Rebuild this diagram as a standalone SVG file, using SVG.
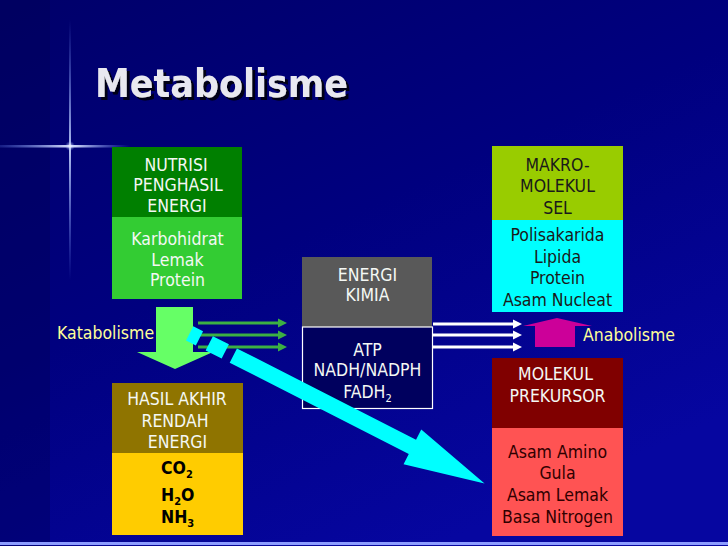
<svg xmlns="http://www.w3.org/2000/svg" width="728" height="546" viewBox="0 0 728 546">
<defs>
<linearGradient id="bg" x1="0" y1="0" x2="0.6" y2="1">
<stop offset="0" stop-color="#00006a"/>
<stop offset="0.5" stop-color="#00007f"/>
<stop offset="1" stop-color="#0606a0"/>
</linearGradient>
<linearGradient id="vline" x1="0" y1="0" x2="0" y2="1">
<stop offset="0" stop-color="#6f8fff" stop-opacity="0"/>
<stop offset="0.5" stop-color="#c8d8ff" stop-opacity="0.9"/>
<stop offset="1" stop-color="#6f8fff" stop-opacity="0"/>
</linearGradient>
<linearGradient id="hline" x1="0" y1="0" x2="1" y2="0">
<stop offset="0" stop-color="#6f8fff" stop-opacity="0.2"/>
<stop offset="0.55" stop-color="#e0e8ff" stop-opacity="1"/>
<stop offset="1" stop-color="#6f8fff" stop-opacity="0"/>
</linearGradient>
<radialGradient id="glow">
<stop offset="0" stop-color="#ffffff" stop-opacity="0.9"/>
<stop offset="1" stop-color="#8fa8ff" stop-opacity="0"/>
</radialGradient>
<filter id="shadow" x="-5%" y="-20%" width="115%" height="150%">
<feDropShadow dx="3" dy="3" stdDeviation="0.4" flood-color="#000018" flood-opacity="1"/>
</filter>
<marker id="gh" markerUnits="userSpaceOnUse" markerWidth="10" markerHeight="10" refX="1" refY="5" orient="auto">
<polygon points="0,0.5 9,5 0,9.5" fill="#3cb043"/>
</marker>
<marker id="wh" markerUnits="userSpaceOnUse" markerWidth="10" markerHeight="10" refX="1" refY="5" orient="auto">
<polygon points="0,0.5 9,5 0,9.5" fill="#ffffff"/>
</marker>
</defs>
<style>
.t{font-family:"DejaVu Sans Condensed","DejaVu Sans",sans-serif;font-size:17.5px;text-anchor:middle}
.w{fill:#f4f8f4}
.d{fill:#1a1a1a}
.r{fill:#300000}
.b{font-weight:bold;text-anchor:start;fill:#000000}
.lab{font-family:"DejaVu Sans Condensed","DejaVu Sans",sans-serif;font-size:17.5px;fill:#ffff99}
.sub{font-size:11px}
.gl{stroke:#3cb043;stroke-width:3;fill:none}
.wl{stroke:#ffffff;stroke-width:3;fill:none}
</style>
<rect width="728" height="546" fill="url(#bg)"/>
<rect x="0" y="0" width="50" height="546" fill="#000050" opacity="0.35"/>
<rect x="69" y="20" width="2" height="260" fill="url(#vline)"/>
<rect x="0" y="145" width="130" height="2.5" fill="url(#hline)"/>
<circle cx="70" cy="146" r="5" fill="url(#glow)"/>
<rect x="0" y="542" width="728" height="3" fill="#8c9cff"/>
<text x="95" y="97" font-family="'DejaVu Sans Condensed','DejaVu Sans',sans-serif" font-weight="bold" font-size="39" textLength="253" lengthAdjust="spacingAndGlyphs" fill="#e8e8f0" filter="url(#shadow)">Metabolisme</text>

<g id="nutrisi">
<rect x="112" y="147" width="130" height="70" fill="#007f00"/>
<rect x="112" y="217" width="130" height="82" fill="#33cc33"/>
<text class="t w" x="176" y="171">NUTRISI</text>
<text class="t w" x="178" y="191">PENGHASIL</text>
<text class="t w" x="177" y="212">ENERGI</text>
<text class="t w" x="177.5" y="245">Karbohidrat</text>
<text class="t w" x="177.5" y="266">Lemak</text>
<text class="t w" x="177.5" y="286">Protein</text>
</g>

<g id="hasil">
<rect x="112" y="383" width="131" height="70" fill="#8f7400"/>
<rect x="112" y="453" width="131" height="82" fill="#ffcc00"/>
<text class="t w" x="177" y="405">HASIL AKHIR</text>
<text class="t w" x="175" y="427">RENDAH</text>
<text class="t w" x="177.5" y="448">ENERGI</text>
<text class="t b" x="161" y="474">CO<tspan class="sub" dy="4">2</tspan></text>
<text class="t b" x="161" y="501">H<tspan class="sub" dy="4">2</tspan><tspan dy="-4">O</tspan></text>
<text class="t b" x="161" y="523">NH<tspan class="sub" dy="4">3</tspan></text>
</g>

<g id="energi">
<rect x="302" y="257" width="130" height="70" fill="#595959"/>
<rect x="302.5" y="327" width="130" height="81.5" fill="#00005e" stroke="#ffffff" stroke-width="1.2"/>
<text class="t w" x="367.5" y="281">ENERGI</text>
<text class="t w" x="367.5" y="301">KIMIA</text>
<text class="t w" x="367.5" y="356">ATP</text>
<text class="t w" x="367.5" y="376">NADH/NADPH</text>
<text class="t w" x="367.5" y="398">FADH<tspan class="sub" dy="4">2</tspan></text>
</g>

<g id="makro">
<rect x="492" y="146" width="131" height="74" fill="#99cc00"/>
<rect x="492" y="220" width="131" height="92" fill="#00ffff"/>
<text class="t d" x="557.5" y="170.5">MAKRO-</text>
<text class="t d" x="557.5" y="191.5">MOLEKUL</text>
<text class="t d" x="557.5" y="214">SEL</text>
<text class="t d" x="557.5" y="241">Polisakarida</text>
<text class="t d" x="557.5" y="263">Lipida</text>
<text class="t d" x="557.5" y="284">Protein</text>
<text class="t d" x="557.5" y="306">Asam Nucleat</text>
</g>

<g id="prekursor">
<rect x="492" y="358" width="131" height="70" fill="#800000"/>
<rect x="492" y="428" width="131" height="108" fill="#ff5353"/>
<text class="t w" x="555.5" y="380">MOLEKUL</text>
<text class="t w" x="557.5" y="402">PREKURSOR</text>
<text class="t r" x="557.5" y="458">Asam Amino</text>
<text class="t r" x="557.5" y="479">Gula</text>
<text class="t r" x="557.5" y="501">Asam Lemak</text>
<text class="t r" x="557.5" y="523">Basa Nitrogen</text>
</g>

<g id="connectors">
<polygon id="katabolisme-arrow" points="156,307 193,307 193,352 213,352 175,369 137,352 156,352" fill="#66ff66"/>
<line class="gl" x1="198" y1="323" x2="279" y2="323" marker-end="url(#gh)"/>
<line class="gl" x1="198" y1="335" x2="279" y2="335" marker-end="url(#gh)"/>
<line class="gl" x1="198" y1="347" x2="279" y2="347" marker-end="url(#gh)"/>
<g id="cyan-arrow" transform="translate(195,336) rotate(27)" fill="#00ffff">
<rect x="-6" y="-8" width="11" height="16"/>
<rect x="16" y="-8" width="18" height="16"/>
<polygon points="43,-8 244,-8 244,-19.5 325,0 244,19.5 244,8 43,8"/>
</g>
<line class="wl" x1="433" y1="324" x2="514" y2="324" marker-end="url(#wh)"/>
<line class="wl" x1="433" y1="335" x2="514" y2="335" marker-end="url(#wh)"/>
<line class="wl" x1="433" y1="347" x2="514" y2="347" marker-end="url(#wh)"/>
<polygon id="anabolisme-arrow" points="535,347 575,347 575,326 592,326 557,318 523,326 535,326" fill="#cc0099"/>
</g>
<text class="lab" x="57" y="339">Katabolisme</text>
<text class="lab" x="583" y="341">Anabolisme</text>
</svg>
